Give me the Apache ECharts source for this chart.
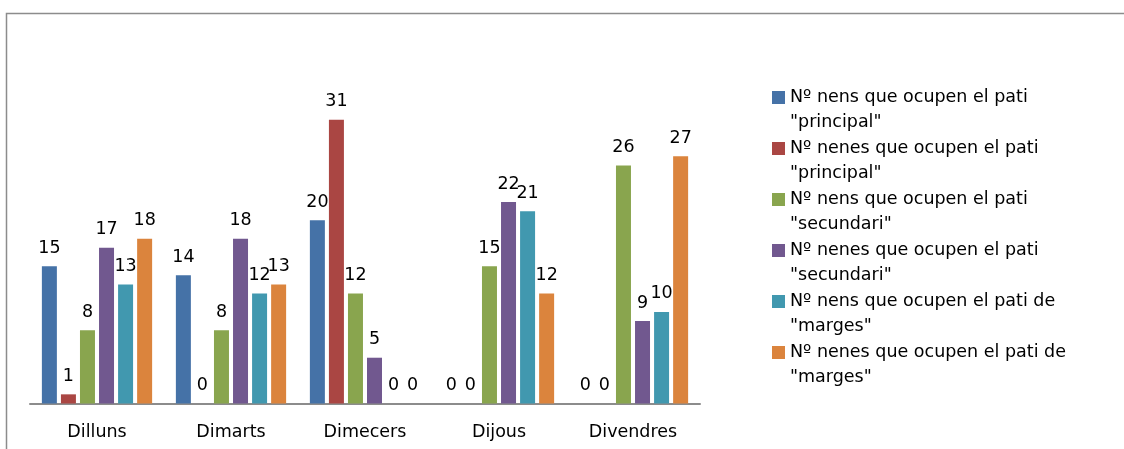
<!DOCTYPE html>
<html>
<head>
<meta charset="utf-8">
<script src="https://cdn.jsdelivr.net/npm/echarts@6/dist/echarts.min.js"></script>
<style>
html,body{margin:0;padding:0;background:#fff;}
#chart{width:1124px;height:449px;}
</style>
</head>
<body>
<div id="chart"></div>
<script>
const categories = ['Dilluns', 'Dimarts', 'Dimecers', 'Dijous', 'Divendres'];
const seriesNames = [
  'Nº nens que ocupen el pati\n"principal"',
  'Nº nenes que ocupen el pati\n"principal"',
  'Nº nens que ocupen el pati\n"secundari"',
  'Nº nenes que ocupen el pati\n"secundari"',
  'Nº nens que ocupen el pati de\n"marges"',
  'Nº nenes que ocupen el pati de\n"marges"'
];
const nensPrincipal = [15, 14, 20, 0, 0];
const nenesPrincipal = [1, 0, 31, 0, 0];
const nensSecundari = [8, 8, 12, 15, 26];
const nenesSecundari = [17, 18, 5, 22, 9];
const nensMarges = [13, 12, 0, 21, 10];
const nenesMarges = [18, 13, 0, 12, 27];
const seriesValues = [nensPrincipal, nenesPrincipal, nensSecundari, nenesSecundari, nensMarges, nenesMarges];
const colors = ['#4572A7', '#AA4643', '#89A54E', '#71588F', '#4198AF', '#DB843D'];

const font = '"DejaVu Sans", sans-serif';
const chart = echarts.init(document.getElementById('chart'));
chart.setOption({
  animation: false,
  color: colors,
  textStyle: { fontFamily: font },
  graphic: [{
    type: 'rect',
    shape: { x: 6.5, y: 13.5, width: 1200, height: 600 },
    style: { fill: 'none', stroke: '#8c8c8c', lineWidth: 1.5 },
    silent: true
  }],
  grid: { left: 30, right: 424, top: 83, bottom: 45.5, containLabel: false },
  legend: {
    orient: 'vertical',
    left: 767,
    top: 55,
    itemWidth: 13,
    itemHeight: 13,
    itemGap: -24,
    icon: 'rect',
    selectedMode: false,
    formatter: name => '\n' + name,
    textStyle: {
      fontFamily: font,
      fontSize: 17.5,
      color: '#000',
      lineHeight: 25
    },
    data: seriesNames
  },
  xAxis: {
    type: 'category',
    data: categories,
    axisLine: { lineStyle: { color: '#8c8c8c', width: 2 } },
    axisTick: { show: false },
    axisLabel: { fontFamily: font, fontSize: 17.5, color: '#000', margin: 20 }
  },
  yAxis: {
    type: 'value',
    min: 0,
    max: 35,
    show: false,
    splitLine: { show: false }
  },
  series: seriesValues.map((vals, i) => ({
    name: seriesNames[i],
    type: 'bar',
    data: vals,
    barWidth: 15,
    barGap: '27%',
    itemStyle: { color: colors[i] },
    label: {
      show: true,
      position: 'top',
      distance: 9,
      fontFamily: font,
      fontSize: 17.5,
      color: '#000'
    }
  }))
});
</script>
</body>
</html>
